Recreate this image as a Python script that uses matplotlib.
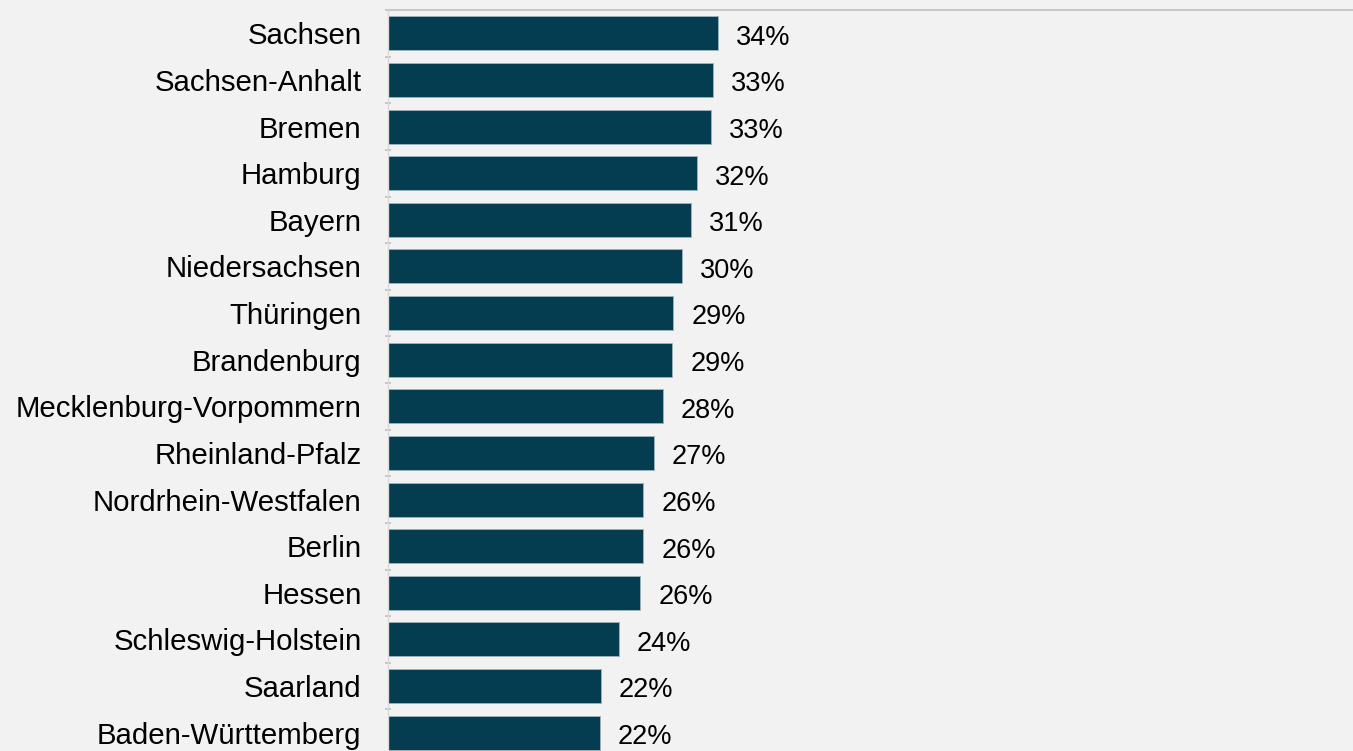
import numpy as np
import matplotlib
matplotlib.use('Agg')
import matplotlib.pyplot as plt
from matplotlib.ticker import FixedLocator

# data (share in %)
states = ['Sachsen', 'Sachsen-Anhalt', 'Bremen', 'Hamburg', 'Bayern', 'Niedersachsen',
          'Thüringen', 'Brandenburg', 'Mecklenburg-Vorpommern', 'Rheinland-Pfalz',
          'Nordrhein-Westfalen', 'Berlin', 'Hessen', 'Schleswig-Holstein', 'Saarland',
          'Baden-Württemberg']
values = [34.0, 33.5, 33.3, 31.8, 31.2, 30.3, 29.4, 29.3, 28.3, 27.4,
          26.3, 26.3, 26.0, 23.8, 21.9, 21.8]
value_labels = ['34%', '33%', '33%', '32%', '31%', '30%', '29%', '29%', '28%', '27%',
                '26%', '26%', '26%', '24%', '22%', '22%']

plt.rcParams['font.family'] = ['Liberation Sans', 'DejaVu Sans']

bg = '#f2f2f2'
fig = plt.figure(figsize=(13.53, 7.51), dpi=100, facecolor=bg)
ax = fig.add_axes([388 / 1353, -5 / 751, (1353 - 388) / 1353, 746 / 751])
ax.set_facecolor(bg)

y = np.arange(len(states))
ax.barh(y, values, height=0.73, color='#053d50', edgecolor='#9fb4bd', linewidth=0.6)

for yi, v, lab in zip(y, values, value_labels):
    ax.text(v + 1.85, yi + 0.03, lab, va='center_baseline', ha='left', fontsize=19.5, color='#000000')

ax.set_xlim(0, 99.4)
ax.set_ylim(len(states) - 0.5, -0.5)
ax.set_yticks(y)
ax.set_yticklabels(states, fontsize=21.2)
ax.tick_params(axis='y', which='major', length=0, pad=19)
ax.yaxis.set_minor_locator(FixedLocator(np.arange(len(states) + 1) - 0.5))
ax.tick_params(axis='y', which='minor', length=5, direction='inout', color='#bfbfbf', width=1.2)
ax.set_xticks([])

for side in ['right', 'bottom']:
    ax.spines[side].set_visible(False)
ax.spines['top'].set_color('#c8c8c8')
ax.spines['top'].set_linewidth(1.5)
ax.spines['left'].set_color('#d9d9d9')
ax.spines['left'].set_linewidth(1)

fig.savefig('out.png', dpi=100, facecolor=bg)
